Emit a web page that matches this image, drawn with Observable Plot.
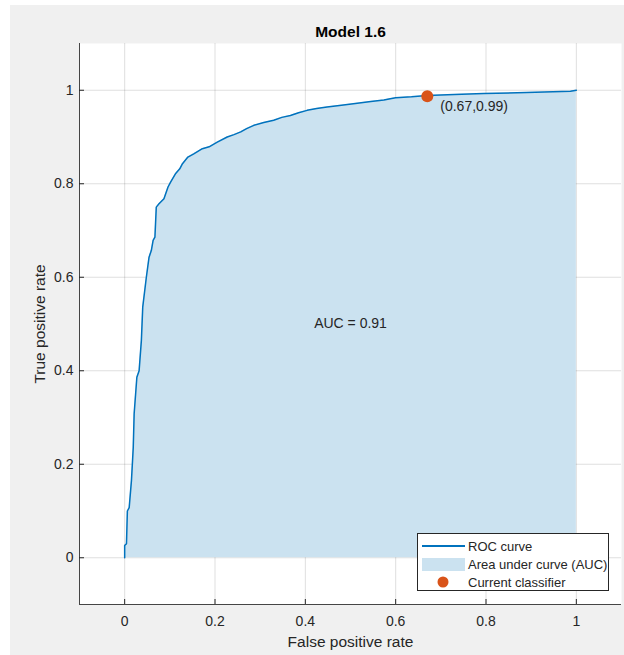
<!DOCTYPE html>
<html><head><meta charset="utf-8">
<script src="https://cdn.jsdelivr.net/npm/d3@7"></script>
<script src="https://cdn.jsdelivr.net/npm/@observablehq/plot@0.6"></script>
<style>
html,body{margin:0;padding:0;background:#fff;}
#fig{position:absolute;left:10px;top:5px;width:614px;height:650px;background:#f0f0f0;font-family:"Liberation Sans",Arial,sans-serif;}
#fig svg{display:block;}
#legend{position:absolute;left:407px;top:528px;width:192px;height:58px;box-sizing:border-box;background:#fff;border:1px solid #262626;font-size:13px;color:#262626;padding-top:3px;}
.row{display:flex;align-items:center;height:18px;white-space:nowrap;}
.sw{width:43px;margin-left:3.5px;margin-right:3.5px;height:18px;display:flex;align-items:center;justify-content:center;}
</style></head><body><div id="fig"></div>
<script>
// ROC curve (false positive rate, true positive rate)
const fpr = [0, 0, 0.004, 0.006, 0.010, 0.015, 0.017, 0.019, 0.021, 0.027, 0.032, 0.037, 0.040, 0.048, 0.054, 0.059, 0.063, 0.067, 0.070, 0.076, 0.087, 0.096, 0.102, 0.113, 0.122, 0.128, 0.140, 0.153, 0.172, 0.187, 0.205, 0.227, 0.242, 0.257, 0.270, 0.286, 0.308, 0.330, 0.348, 0.367, 0.385, 0.404, 0.425, 0.448, 0.480, 0.515, 0.545, 0.574, 0.588, 0.600, 0.635, 0.670, 0.730, 0.795, 0.890, 0.987, 1.0];
const tpr = [0, 0.026, 0.030, 0.100, 0.107, 0.165, 0.200, 0.236, 0.308, 0.386, 0.400, 0.465, 0.536, 0.600, 0.643, 0.657, 0.679, 0.686, 0.750, 0.757, 0.768, 0.793, 0.804, 0.822, 0.832, 0.843, 0.857, 0.864, 0.875, 0.879, 0.889, 0.900, 0.905, 0.911, 0.918, 0.925, 0.931, 0.936, 0.942, 0.946, 0.952, 0.957, 0.961, 0.964, 0.968, 0.972, 0.976, 0.979, 0.982, 0.984, 0.986, 0.989, 0.991, 0.993, 0.995, 0.998, 1.0];
// current classifier
const classifierFpr = [0.67];
const classifierTpr = [0.987];
const auc = 0.91;
// ticks
const xTicks = [0, 0.2, 0.4, 0.6, 0.8, 1];
const xTickLabels = ["0", "0.2", "0.4", "0.6", "0.8", "1"];
const yTicks = [0, 0.2, 0.4, 0.6, 0.8, 1];
const yTickLabels = ["0", "0.2", "0.4", "0.6", "0.8", "1"];
const xDomain = [-0.1, 1.1];
const yDomain = [-0.1, 1.1];
const titleText = "Model 1.6";
const xLabel = "False positive rate";
const yLabel = "True positive rate";
const legendLabels = ["ROC curve", "Area under curve (AUC)", "Current classifier"];

const roc = fpr.map((f, i) => ({fpr: f, tpr: tpr[i]}));
const cls = classifierFpr.map((f, i) => ({fpr: f, tpr: classifierTpr[i], label: `(${f.toFixed(2)},${classifierTpr[i].toFixed(2)})`}));
const font = '"Liberation Sans", Arial, sans-serif';
const ink = "#262626";
const lineColor = "#0072bd", areaColor = "#cbe2f0", dotColor = "#d95319";

const chart = Plot.plot({
  width: 614, height: 650,
  marginLeft: 69, marginRight: 3, marginTop: 38, marginBottom: 51,
  style: {background: "transparent", fontFamily: font, fontSize: "14px", color: ink, overflow: "visible"},
  x: {domain: xDomain},
  y: {domain: yDomain},
  marks: [
    Plot.frame({fill: "#fff", stroke: null}),
    Plot.gridX(xTicks, {stroke: ink, strokeOpacity: 0.15}),
    Plot.gridY(yTicks, {stroke: ink, strokeOpacity: 0.15}),
    Plot.areaY(roc, {x: "fpr", y: "tpr", fill: areaColor}),
    Plot.line(roc, {x: "fpr", y: "tpr", stroke: lineColor, strokeWidth: 1.5}),
    Plot.dot(cls, {x: "fpr", y: "tpr", r: 6, fill: dotColor, stroke: null}),
    Plot.text(cls, {x: "fpr", y: "tpr", text: "label", textAnchor: "start", dx: 13, dy: 10, fontSize: 14, fill: ink}),
    Plot.text([`AUC = ${auc.toFixed(2)}`], {text: d => d, frameAnchor: "middle", fontSize: 14, fill: ink}),
    Plot.ruleX([xDomain[0]], {stroke: ink, strokeOpacity: 0.85}),
    Plot.ruleY([yDomain[0]], {stroke: ink, strokeOpacity: 0.85}),
    Plot.axisX(xTicks, {tickSize: 0, tickPadding: 12, tickFormat: d => xTickLabels[xTicks.indexOf(d)], label: null, fontSize: 14, fill: ink}),
    Plot.axisX(xTicks, {tickSize: -5, tickFormat: () => "", label: null, stroke: ink}),
    Plot.axisY(yTicks, {tickSize: 0, tickPadding: 6, tickFormat: d => yTickLabels[yTicks.indexOf(d)], label: null, fontSize: 14, fill: ink}),
    Plot.axisY(yTicks, {tickSize: -5, tickFormat: () => "", label: null, stroke: ink}),
    Plot.text([titleText], {text: d => d, frameAnchor: "top", dy: -7, lineAnchor: "bottom", fontWeight: "bold", fontSize: 15.5, fill: "#000"}),
    Plot.text([xLabel], {text: d => d, frameAnchor: "bottom", dy: 42, lineAnchor: "bottom", textAnchor: "middle", fontSize: 15.5, fill: ink}),
    Plot.text([yLabel], {text: d => d, frameAnchor: "left", dx: -46, rotate: -90, lineAnchor: "top", textAnchor: "middle", fontSize: 15.5, fill: ink})
  ]
});
const fig = document.getElementById("fig");
fig.appendChild(chart);

// legend overlay
const legend = document.createElement("div");
legend.id = "legend";
const swatches = [
  `<svg width="43" height="4"><line x1="0" x2="43" y1="2" y2="2" stroke="${lineColor}" stroke-width="2"/></svg>`,
  `<svg width="43" height="13"><rect width="43" height="13" fill="${areaColor}"/></svg>`,
  `<svg width="12" height="12"><circle cx="6" cy="6" r="5.5" fill="${dotColor}"/></svg>`
];
legend.innerHTML = legendLabels.map((t, i) => `<div class="row"><div class="sw">${swatches[i]}</div><span>${t}</span></div>`).join("");
fig.appendChild(legend);
</script></body></html>
